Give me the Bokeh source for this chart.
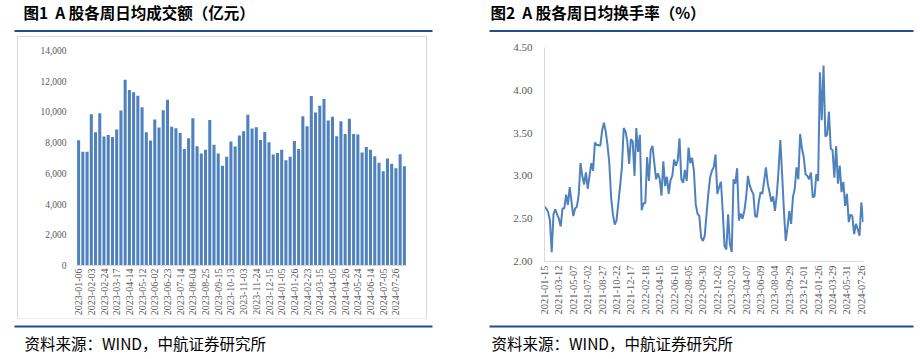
import math
from bokeh.plotting import figure
from bokeh.layouts import row, column
from bokeh.models import Range1d, FixedTicker, NumeralTickFormatter, Spacer
from bokeh.core.properties import value
from bokeh.embed import file_html
from bokeh.resources import INLINE

# ---------------- data ----------------
title1 = "图1\u00a0\u00a0A 股各周日均成交额（亿元）"
title2 = "图2\u00a0\u00a0A 股各周日均换手率（%）"
source = "资料来源：WIND，中航证券研究所"

# weekly average daily turnover (亿元), 78 weeks from 2023-01-06
volume = [8150, 7400, 7400, 9850, 8680, 9920, 8400, 8490, 8360, 8860,
          10090, 12100, 11430, 11280, 11060, 10310, 8680, 8140, 9510, 8990,
          10110, 10800, 9030, 8940, 8620, 7580, 8290, 9590, 7770, 7300,
          7530, 9480, 7860, 7300, 6490, 7080, 8080, 7750, 8470, 8750,
          9810, 8920, 9010, 8180, 8700, 8030, 7230, 7320, 7530, 6860,
          7080, 8100, 7580, 9720, 9070, 11040, 9960, 10410, 10840, 9440,
          9680, 8420, 9400, 8570, 9550, 8570, 8530, 7360, 7710, 7530,
          7120, 6690, 6130, 6970, 6620, 6340, 7250, 6470]
volume_labels = ["2023-01-06", "2023-02-03", "2023-02-24", "2023-03-17", "2023-04-14",
                 "2023-05-12", "2023-06-02", "2023-06-23", "2023-07-14", "2023-08-04",
                 "2023-08-25", "2023-09-15", "2023-10-13", "2023-11-03", "2023-11-24",
                 "2023-12-15", "2024-01-05", "2024-01-26", "2024-02-23", "2024-03-15",
                 "2024-04-05", "2024-04-26", "2024-05-24", "2024-06-14", "2024-07-05",
                 "2024-07-26"]
volume_label_step = 3

# weekly average turnover rate (%), 178 weeks from 2021-01-15
turnover = [2.64, 2.62, 2.58, 2.48, 2.11, 2.55, 2.61, 2.55, 2.50, 2.41,
            2.62, 2.62, 2.78, 2.66, 2.87, 2.70, 2.53, 2.62, 2.64, 2.78,
            3.15, 3.00, 2.90, 3.04, 2.85, 3.00, 3.15, 3.06, 3.39, 3.36,
            3.36, 3.35, 3.53, 3.62, 3.52, 3.36, 3.15, 2.75, 2.55, 2.43,
            2.48, 2.68, 2.88, 3.10, 3.56, 3.52, 3.40, 3.14, 3.43, 3.40,
            3.00, 3.56, 3.28, 3.48, 2.60, 2.68, 2.68, 3.22, 2.94, 3.30,
            3.35, 3.15, 2.96, 3.03, 2.96, 2.77, 3.17, 2.88, 2.99, 2.79,
            2.95, 3.00, 3.19, 3.12, 3.18, 3.44, 2.96, 2.92, 3.07, 2.94,
            3.33, 3.15, 3.21, 3.06, 2.67, 2.56, 2.53, 2.28,
            2.24, 2.30, 2.55, 2.79, 2.98, 3.06, 3.10, 3.25, 2.79, 2.87,
            2.93, 2.59, 2.18, 2.14, 2.55, 2.20, 2.11, 2.96, 2.91, 3.09,
            2.48, 2.56, 2.50, 2.59, 2.75, 3.00, 2.89, 2.83, 2.79, 2.53,
            2.52, 2.69, 2.81, 2.79, 2.94, 3.10, 2.91, 2.81, 2.70, 2.76,
            2.59, 2.77, 3.06, 3.42, 3.02, 2.59, 2.24, 2.40, 2.59, 2.44,
            2.75, 2.85, 3.10, 2.96, 3.49, 3.32, 3.22, 3.02, 3.00, 2.96,
            3.04, 2.75, 2.76, 3.02, 2.94, 4.21, 3.65, 4.29, 3.46, 3.48,
            3.75, 3.32, 3.30, 2.98, 3.35, 2.91, 3.12, 2.81, 2.93, 2.65,
            2.79, 2.46, 2.55, 2.53, 2.32, 2.44, 2.38, 2.30, 2.69, 2.46]
turnover_labels = ["2021-01-15", "2021-03-12", "2021-05-07", "2021-07-02", "2021-08-27",
                   "2021-10-22", "2021-12-17", "2022-02-18", "2022-04-15", "2022-06-10",
                   "2022-08-05", "2022-09-30", "2022-12-02", "2023-02-03", "2023-04-07",
                   "2023-06-09", "2023-08-04", "2023-09-29", "2023-12-01", "2024-01-26",
                   "2024-03-29", "2024-05-31", "2024-07-26"]
turnover_label_step = 8

# ---------------- styles ----------------
CJK = "Noto Sans CJK SC"
SERIF = "Liberation Serif"
NAVY = "#1F4E91"
BLUE = "#4F81BD"
GRAY_TXT = "#595959"
GRAY_LINE = "#D9D9D9"


def strip(w, h, text, tx, ty, lx0, lx1, ly, size, bold):
    p = figure(width=w, height=h, x_range=Range1d(0, w), y_range=Range1d(0, h),
               output_backend="svg", toolbar_location=None,
               x_axis_type=None, y_axis_type=None, min_border=0)
    p.outline_line_color = None
    p.xgrid.visible = False
    p.ygrid.visible = False
    p.text(x=[tx], y=[ty], text=[text], text_font=value(CJK),
           text_font_size=size, text_font_style="bold" if bold else "normal",
           text_baseline="middle", text_align="left", text_color="#000000")
    p.segment(x0=[lx0], y0=[ly], x1=[lx1], y1=[ly], line_color=NAVY, line_width=2)
    return p


def style_axes(p, xsize, ysize):
    for ax, size in ((p.xaxis[0], xsize), (p.yaxis[0], ysize)):
        ax.major_tick_in = 0
        ax.major_tick_out = 0
        ax.minor_tick_in = 0
        ax.minor_tick_out = 0
        ax.major_label_text_font = SERIF
        ax.major_label_text_font_size = size
        ax.major_label_text_color = GRAY_TXT
    p.xgrid.visible = False
    p.ygrid.visible = False
    p.outline_line_color = None


# ---------------- chart 1 ----------------
c1 = figure(width=408, height=281, x_range=Range1d(-0.5, len(volume) - 0.5),
            y_range=Range1d(0, 14000), output_backend="svg", toolbar_location=None,
            min_border_left=58, min_border_right=20, min_border_top=13, min_border_bottom=52,
            styles={"outline": "1px solid #D9D9D9"})
c1.vbar(x=list(range(len(volume))), top=volume, width=0.72,
        fill_color=BLUE, line_color=None)
style_axes(c1, "10px", "9.5px")
ticks1 = [i * volume_label_step for i in range(len(volume_labels))]
c1.xaxis.ticker = FixedTicker(ticks=ticks1)
c1.xaxis.major_label_overrides = {t: lab for t, lab in zip(ticks1, volume_labels)}
c1.xaxis.major_label_orientation = math.pi / 2
c1.xaxis.major_label_standoff = 3
c1.xaxis.axis_line_color = GRAY_LINE
c1.yaxis.ticker = FixedTicker(ticks=list(range(0, 14001, 2000)))
c1.yaxis.formatter = NumeralTickFormatter(format="0,0")
c1.yaxis.axis_line_color = None
c1.yaxis.major_label_standoff = 10

# ---------------- chart 2 ----------------
c2 = figure(width=454, height=281, x_range=Range1d(0, len(turnover) - 0.8),
            y_range=Range1d(2.0, 4.5), output_backend="svg", toolbar_location=None,
            min_border_left=76, min_border_right=59, min_border_top=10, min_border_bottom=57)
c2.line(x=list(range(len(turnover))), y=turnover, line_color=BLUE, line_width=2)
style_axes(c2, "10.5px", "11px")
ticks2 = [i * turnover_label_step for i in range(len(turnover_labels))]
c2.xaxis.ticker = FixedTicker(ticks=ticks2)
c2.xaxis.major_label_overrides = {t: lab for t, lab in zip(ticks2, turnover_labels)}
c2.xaxis.major_label_orientation = math.pi / 2
c2.xaxis.major_label_standoff = 4
c2.xaxis.axis_line_color = GRAY_LINE
c2.yaxis.ticker = FixedTicker(ticks=[2.0, 2.5, 3.0, 3.5, 4.0, 4.5])
c2.yaxis.formatter = NumeralTickFormatter(format="0.00")
c2.yaxis.axis_line_color = GRAY_LINE
c2.yaxis.major_label_standoff = 12

# ---------------- strips ----------------
t1 = strip(468, 37, title1, 23, 25.5, 14, 432, 6.5, "15.5px", True)
s1 = strip(468, 41, source, 24, 17, 14, 432, 33, "15.5px", False)
t2 = strip(454, 37, title2, 22, 25.5, 21, 445, 6.5, "15.5px", True)
s2 = strip(454, 41, source, 23, 17, 21, 445, 33, "15.5px", False)

left = column(t1, row(Spacer(width=18, height=281), c1, Spacer(width=42, height=281)), s1)
right = column(t2, row(c2, Spacer(width=0, height=281)), s2)
layout = row(left, right)

open("out.html", "w").write(file_html(layout, INLINE))
